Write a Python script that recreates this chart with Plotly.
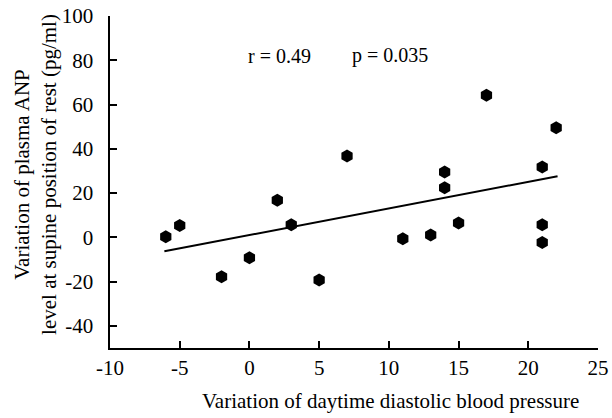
import plotly.graph_objects as go

# Data
bp_var = [-6, -5, -2, 0, 2, 3, 5, 7, 11, 13, 14, 14, 15, 17, 21, 21, 21, 22]
anp_var = [0.3, 5.3, -17.8, -9.2, 16.8, 5.7, -19.3, 36.7, -0.6, 1.0, 29.5, 22.4, 6.5, 64.2, 31.8, 5.7, -2.3, 49.5]
fit_x = [-6.1, 22.1]
fit_y = [-6.3, 27.6]
x_ticks = [-10, -5, 0, 5, 10, 15, 20, 25]
y_ticks = [-40, -20, 0, 20, 40, 60, 80, 100]

FONT = "Liberation Serif, Times New Roman, serif"
NB = "\u00a0"

fig = go.Figure()
fig.add_trace(go.Scatter(x=fit_x, y=fit_y, mode="lines",
                         line=dict(color="black", width=2), showlegend=False, hoverinfo="skip"))
fig.add_trace(go.Scatter(x=bp_var, y=anp_var, mode="markers",
                         marker=dict(symbol="hexagon", size=13, color="black"),
                         showlegend=False))

fig.update_layout(
    width=612, height=418,
    margin=dict(l=110, r=14, t=16, b=70),
    paper_bgcolor="white", plot_bgcolor="white",
    font=dict(family=FONT, color="black", size=21),
    xaxis=dict(range=[-10, 25], tickvals=x_ticks, ticktext=[str(v) for v in x_ticks],
               showgrid=False, zeroline=False, showline=True, linecolor="black", linewidth=2,
               ticks="inside", ticklen=7, tickwidth=2, tickcolor="black", automargin=False,
               ticklabeloverflow="allow", tickfont=dict(family=FONT, size=21)),
    yaxis=dict(range=[-50, 100], tickvals=y_ticks, ticktext=[str(v) + NB + NB for v in y_ticks],
               showgrid=False, zeroline=False, showline=True, linecolor="black", linewidth=2,
               ticks="inside", ticklen=7, tickwidth=2, tickcolor="black", automargin=False,
               ticklabeloverflow="allow", tickfont=dict(family=FONT, size=21)),
    annotations=[
        dict(text="r = 0.49", x=0.348, y=0.88, xref="paper", yref="paper", showarrow=False,
             font=dict(family=FONT, size=20), xanchor="center", yanchor="middle"),
        dict(text="p = 0.035", x=0.492, y=0.88, xref="paper", yref="paper", showarrow=False,
             font=dict(family=FONT, size=20), xanchor="left", yanchor="middle"),
        dict(text="Variation of daytime diastolic blood pressure", x=0.574, y=-0.16,
             xref="paper", yref="paper", showarrow=False, font=dict(family=FONT, size=21),
             xanchor="center", yanchor="middle"),
        dict(text="Variation of plasma ANP<br>level at supine position of rest (pg/ml)",
             x=-0.154, y=0.524, xref="paper", yref="paper", showarrow=False, textangle=-90,
             font=dict(family=FONT, size=21), xanchor="center", yanchor="middle"),
    ],
)

fig.write_html("out.html", config={"displayModeBar": False},
               post_script="document.body.style.margin='0';document.body.style.overflow='hidden';")
